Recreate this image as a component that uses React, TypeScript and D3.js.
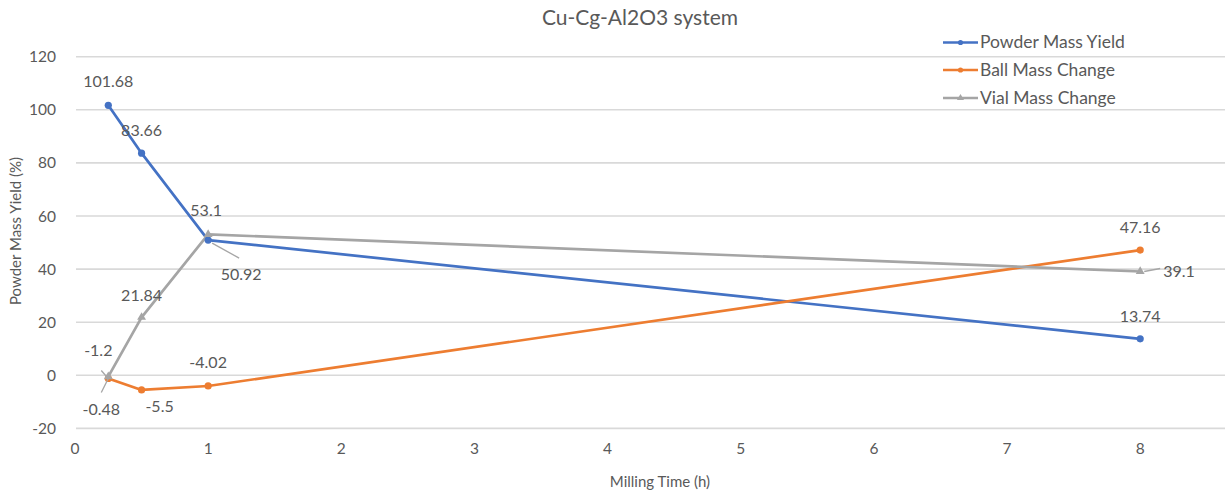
import React from "react";
import * as d3 from "d3";

// ---- data ----
const times = [0.25, 0.5, 1, 8];
const powderYield = [101.68, 83.66, 50.92, 13.74];
const ballChange = [-1.2, -5.5, -4.02, 47.16];
const vialChange = [-0.48, 21.84, 53.1, 39.1];
const seriesNames = ["Powder Mass Yield", "Ball Mass Change", "Vial Mass Change"];
const xTicks = [0, 1, 2, 3, 4, 5, 6, 7, 8];
const yTicks = [-20, 0, 20, 40, 60, 80, 100, 120];

// ---- layout / style ----
const W = 1225;
const H = 495;
const colors = ["#4472C4", "#ED7D31", "#A5A5A5"];
const textColor = "#595959";
const font = "Lato, 'Noto Sans', sans-serif";

// label placement per series per point
type LabelPos = { dx: number; dy: number; anchor: string; leader?: [number, number, number, number] };
const labelPos: LabelPos[][] = [
  [
    { dx: 0, dy: -18, anchor: "middle" },
    { dx: 0, dy: -17, anchor: "middle" },
    { dx: 33, dy: 40, anchor: "middle", leader: [4, 3, 31, 18] },
    { dx: 0, dy: -17, anchor: "middle" },
  ],
  [
    { dx: -10, dy: -22, anchor: "middle", leader: [-7, -8, -1, -1] },
    { dx: 18, dy: 22, anchor: "middle" },
    { dx: 0, dy: -18, anchor: "middle" },
    { dx: 0, dy: -17, anchor: "middle" },
  ],
  [
    { dx: -7, dy: 38, anchor: "middle", leader: [0, 2, -7, 16] },
    { dx: 0, dy: -16, anchor: "middle" },
    { dx: -2, dy: -18, anchor: "middle" },
    { dx: 23, dy: 6, anchor: "start", leader: [4, 0, 20, -3] },
  ],
];

export default function App() {
  const x = d3.scaleLinear().domain([0, 9]).range([75, 75 + 9 * 133.15]);
  const y = d3.scaleLinear().domain([-20, 120]).range([428.4, 56.7]);
  const allSeries = [powderYield, ballChange, vialChange];
  const line = d3
    .line<number>()
    .x((_, i) => x(times[i]))
    .y((v) => y(v));
  const tri = d3.symbol().type(d3.symbolTriangle).size(34)();
  const triSmall = d3.symbol().type(d3.symbolTriangle).size(22)();

  return (
    <svg
      width={W}
      height={H}
      style={{ position: "absolute", left: 0, top: 0, background: "#fff" }}
      fontFamily={font}
    >
      <rect x={0} y={0} width={W} height={H} fill="#fff" />
      {yTicks.map((t) => (
        <line key={t} x1={76} x2={W} y1={y(t)} y2={y(t)} stroke="#D9D9D9" strokeWidth={1.6} />
      ))}
      {yTicks.map((t) => (
        <text key={t} x={56} y={y(t) + 5.5} textAnchor="end" fontSize={15.5} fill={textColor}>
          {t}
        </text>
      ))}
      {xTicks.map((t) => (
        <text key={t} x={x(t)} y={454} textAnchor="middle" fontSize={15.5} fill={textColor}>
          {t}
        </text>
      ))}
      <text x={640} y={25} textAnchor="middle" fontSize={21} fill={textColor}>
        Cu-Cg-Al2O3 system
      </text>
      <text x={660} y={487} textAnchor="middle" fontSize={15} fill={textColor}>
        Milling Time (h)
      </text>
      <text transform={`translate(21, 231) rotate(-90)`} textAnchor="middle" fontSize={15} fill={textColor}>
        Powder Mass Yield (%)
      </text>
      {allSeries.map((s, si) => (
        <path key={si} d={line(s) || ""} fill="none" stroke={colors[si]} strokeWidth={2.7} strokeLinejoin="round" />
      ))}
      {allSeries.map((s, si) =>
        s.map((v, i) =>
          si === 2 ? (
            <path key={`${si}-${i}`} d={tri || ""} transform={`translate(${x(times[i])},${y(v)})`} fill={colors[si]} />
          ) : (
            <circle key={`${si}-${i}`} cx={x(times[i])} cy={y(v)} r={3.6} fill={colors[si]} />
          )
        )
      )}
      {allSeries.map((s, si) =>
        s.map((v, i) => {
          const lp = labelPos[si][i];
          if (!lp.leader) return null;
          const px = x(times[i]);
          const py = y(v);
          return (
            <line
              key={`l-${si}-${i}`}
              x1={px + lp.leader[0]}
              y1={py + lp.leader[1]}
              x2={px + lp.leader[2]}
              y2={py + lp.leader[3]}
              stroke="#A6A6A6"
              strokeWidth={1.3}
            />
          );
        })
      )}
      {allSeries.map((s, si) =>
        s.map((v, i) => {
          const lp = labelPos[si][i];
          return (
            <text
              key={`t-${si}-${i}`}
              x={x(times[i]) + lp.dx}
              y={y(v) + lp.dy}
              textAnchor={lp.anchor}
              fontSize={16}
              fill={textColor}
            >
              {v}
            </text>
          );
        })
      )}
      {seriesNames.map((n, si) => {
        const ly = [42.5, 70, 98][si];
        return (
          <g key={n}>
            <line x1={943} x2={978} y1={ly} y2={ly} stroke={colors[si]} strokeWidth={2.7} />
            {si === 2 ? (
              <path d={triSmall || ""} transform={`translate(960.5,${ly})`} fill={colors[si]} />
            ) : (
              <circle cx={960.5} cy={ly} r={2.6} fill={colors[si]} />
            )}
            <text x={980} y={ly + 5.5} fontSize={17.5} fill={textColor}>
              {n}
            </text>
          </g>
        );
      })}
    </svg>
  );
}
